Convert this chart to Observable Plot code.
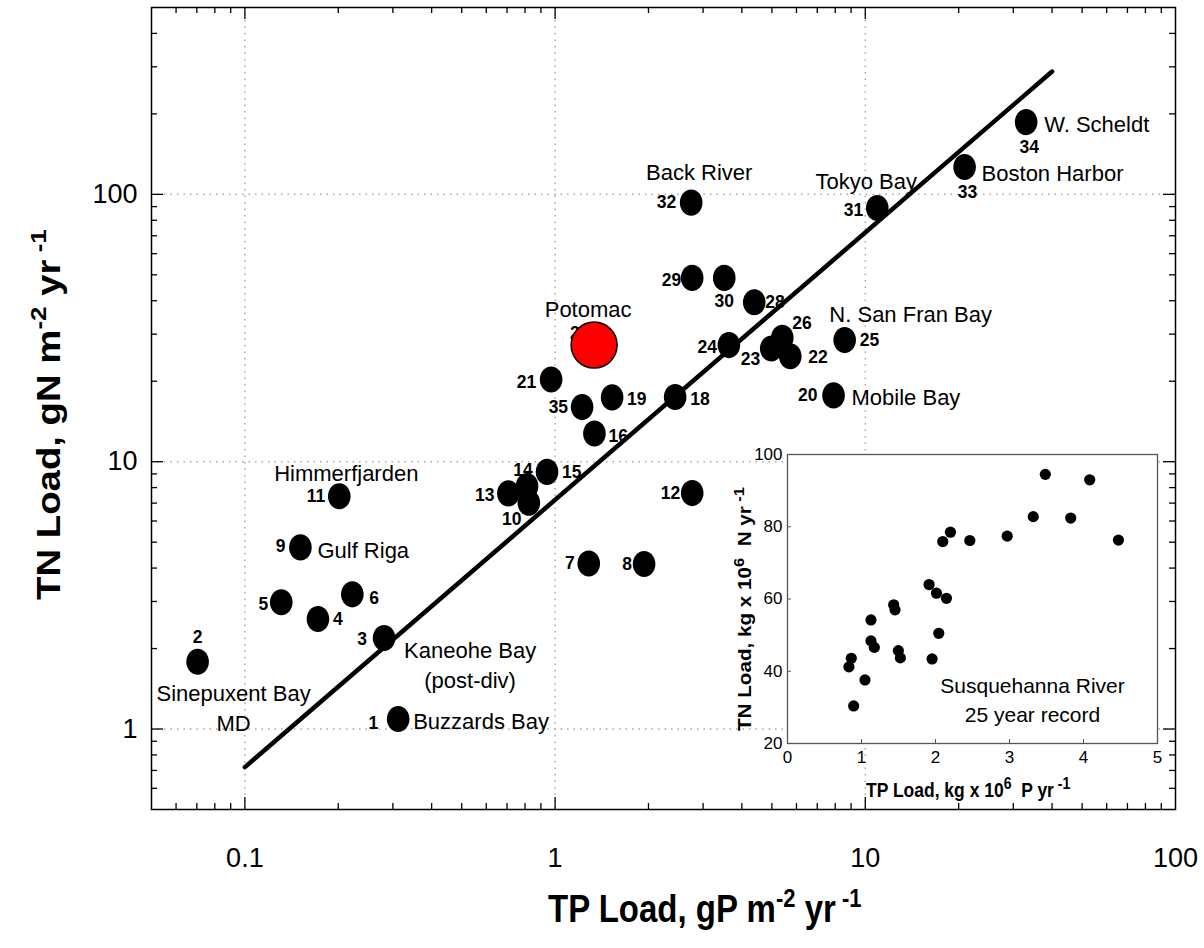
<!DOCTYPE html>
<html>
<head>
<meta charset="utf-8">
<script src="https://cdn.jsdelivr.net/npm/d3@7"></script>
<script src="https://cdn.jsdelivr.net/npm/@observablehq/plot@0.6"></script>
<style>
  body { margin: 0; background: white; }
  #wrap { position: relative; width: 1204px; height: 948px; }
</style>
</head>
<body>
<div id="wrap"></div>
<script>
const FONT = "Liberation Sans, Arial, Helvetica, sans-serif";

// ---------- Main chart data ----------
const siteIds = [1,2,3,4,5,6,7,8,9,10,11,12,13,14,15,16,18,19,20,21,22,23,24,25,26,27,28,29,30,31,32,33,34,35];
const tpLoad  = [0.312,0.0704,0.281,0.172,0.131,0.222,1.284,1.936,0.151,0.823,0.2015,2.767,0.707,0.812,0.942,1.339,2.438,1.527,7.90,0.971,5.73,4.975,3.633,8.58,5.40,1.336,4.385,2.766,3.51,10.93,2.746,20.9,33.0,1.222];
const tnLoad  = [1.09,1.785,2.19,2.58,2.98,3.19,4.16,4.14,4.78,7.02,7.43,7.63,7.61,8.10,9.16,12.75,17.47,17.4,17.7,20.3,24.8,26.5,27.3,28.5,29.1,27.3,39.5,48.7,48.7,88.9,93.1,126.5,186.3,16.0];
const highlightId = 27;

const siteNames = {
  2: "Sinepuxent Bay\nMD", 11: "Himmerfjarden", 9: "Gulf Riga", 3: "Kaneohe Bay\n(post-div)",
  1: "Buzzards Bay", 27: "Potomac", 32: "Back River", 31: "Tokyo Bay",
  25: "N. San Fran Bay", 20: "Mobile Bay", 33: "Boston Harbor", 34: "W. Scheldt"
};

// reference line (TN = ~7.2 x TP)
const fitTP = [0.1, 40];
const fitTN = [0.72, 288];

// axis ticks
const xTickValues = [0.1, 1, 10, 100];
const xTickText   = ["0.1", "1", "10", "100"];
const yTickValues = [1, 10, 100];
const yTickText   = ["1", "10", "100"];
const xGrid = [0.1, 1, 10];
const yGrid = [1, 10, 100];
const xMajor = [0.1, 1, 10];
const xMinor = [0.06,0.07,0.08,0.09,0.2,0.3,0.4,0.5,0.6,0.7,0.8,0.9,2,3,4,5,6,7,8,9,20,30,40,50,60,70,80,90];
const yMajor = [1, 10, 100];
const yMinor = [0.6,0.7,0.8,0.9,2,3,4,5,6,7,8,9,20,30,40,50,60,70,80,90,200,300,400];

// ---------- Inset data (Susquehanna River) ----------
const insetTP = [0.83,0.862,0.894,1.047,1.128,1.128,1.173,1.435,1.453,1.498,1.525,1.913,1.954,2.013,2.044,2.148,2.098,2.202,2.464,2.969,3.321,3.484,3.827,4.084,4.472];
const insetTN = [41.2,43.6,30.4,37.6,54.2,48.4,46.6,58.4,57.0,45.7,43.7,64.0,43.4,61.6,50.5,60.2,75.9,78.5,76.2,77.4,82.8,94.5,82.4,93.0,76.3];
const insetXTicks = [0,1,2,3,4,5];
const insetYTicks = [20,40,60,80,100];
const insetInnerX = [1,2,3,4];
const insetInnerY = [40,60,80];

// ---------- Layout (label placement: dx, dy, anchor) ----------
const numberLabelPlacement = {
  1:[-20,4,"end"], 2:[0,-24,"middle"], 3:[-17,1,"end"], 4:[15,0,"start"], 5:[-13,2,"end"],
  6:[17,4,"start"], 7:[-14,0,"end"], 8:[-12,0,"end"], 9:[-15,-1,"end"], 10:[-17,17,"middle"],
  11:[-14,0,"end"], 12:[-12,0,"end"], 13:[-14,2,"end"], 14:[-4,-16,"middle"], 15:[15,1,"start"],
  16:[14,3,"start"], 18:[15,2,"start"], 19:[15,2,"start"], 20:[-16,0,"end"], 21:[-15,3,"end"],
  22:[18,1,"start"], 23:[-11,11,"end"], 24:[-12,2,"end"], 25:[15,0,"start"], 26:[10,-14,"start"],
  27:[-24,-12,"start"], 28:[11,0,"start"], 29:[-11,2,"end"], 30:[0,23,"middle"], 31:[-14,2,"end"],
  32:[-15,0,"end"], 33:[3,25,"middle"], 34:[3,25,"middle"], 35:[-14,0,"end"]
};
const nameLabelPlacement = {
  2:[36,45,"middle"], 11:[7,-25,"middle"], 9:[17,1,"start"], 3:[86,25,"middle"], 1:[15,0,"start"],
  27:[-6,-38,"middle"], 32:[8,-32,"middle"], 31:[-11,-29,"middle"], 25:[66,-28,"middle"],
  20:[18,0,"start"], 33:[17,4,"start"], 34:[18,0,"start"]
};

// ---------- Build ----------
const sites = siteIds.map((id, i) => ({id, tp: tpLoad[i], tn: tnLoad[i]}));
const blackSites = sites.filter(d => d.id !== highlightId);
const redSite = sites.filter(d => d.id === highlightId);
const fitLine = fitTP.map((x, i) => ({tp: x, tn: fitTN[i]}));

const ellipse = {
  draw(ctx, size) {
    const r = Math.sqrt(size / Math.PI), a = r * 0.92, b = r * 1.06, k = 0.5523;
    ctx.moveTo(a, 0);
    ctx.bezierCurveTo(a, b * k, a * k, b, 0, b);
    ctx.bezierCurveTo(-a * k, b, -a, b * k, -a, 0);
    ctx.bezierCurveTo(-a, -b * k, -a * k, -b, 0, -b);
    ctx.bezierCurveTo(a * k, -b, a, -b * k, a, 0);
    ctx.closePath();
  }
};

const W = 1204, H = 948, ML = 151, MR = 29, MT = 7, MB = 139;
const FW = W - ML - MR, FH = H - MT - MB;

const numberMarks = sites.map(s => {
  const [dx, dy, anchor] = numberLabelPlacement[s.id];
  return Plot.text([s], {x: "tp", y: "tn", text: d => String(d.id), dx, dy, textAnchor: anchor,
    fontSize: 17.5, fontWeight: "bold", fontFamily: FONT, fill: "black"});
});
const nameMarks = sites.filter(s => siteNames[s.id]).map(s => {
  const [dx, dy, anchor] = nameLabelPlacement[s.id];
  return Plot.text([s], {x: "tp", y: "tn", text: d => siteNames[d.id], dx, dy, textAnchor: anchor,
    fontSize: 22, lineHeight: 1.36, fontFamily: FONT, fill: "black"});
});

const main = Plot.plot({
  width: W, height: H,
  marginLeft: ML, marginRight: MR, marginTop: MT, marginBottom: MB,
  x: {type: "log", domain: [0.05, 100], axis: null},
  y: {type: "log", domain: [0.5, 500], axis: null},
  style: {fontFamily: FONT, background: "white", color: "black"},
  marks: [
    Plot.ruleX(xGrid, {x: d => d, stroke: "#a8a8a8", strokeWidth: 1.5, strokeDasharray: "1.5,5"}),
    Plot.ruleY(yGrid, {y: d => d, stroke: "#a8a8a8", strokeWidth: 1.5, strokeDasharray: "1.5,5"}),
    // ticks (inward, all four sides)
    Plot.ruleX(xMajor, {x: d => d, insetTop: FH - 12, stroke: "black", strokeWidth: 1.3}),
    Plot.ruleX(xMajor, {x: d => d, insetBottom: FH - 12, stroke: "black", strokeWidth: 1.3}),
    Plot.ruleX(xMinor, {x: d => d, insetTop: FH - 6, stroke: "black", strokeWidth: 1.3}),
    Plot.ruleX(xMinor, {x: d => d, insetBottom: FH - 6, stroke: "black", strokeWidth: 1.3}),
    Plot.ruleY(yMajor, {y: d => d, insetRight: FW - 12, stroke: "black", strokeWidth: 1.3}),
    Plot.ruleY(yMajor, {y: d => d, insetLeft: FW - 12, stroke: "black", strokeWidth: 1.3}),
    Plot.ruleY(yMinor, {y: d => d, insetRight: FW - 6, stroke: "black", strokeWidth: 1.3}),
    Plot.ruleY(yMinor, {y: d => d, insetLeft: FW - 6, stroke: "black", strokeWidth: 1.3}),
    Plot.line(fitLine, {x: "tp", y: "tn", stroke: "black", strokeWidth: 4.5}),
    Plot.dot(blackSites, {x: "tp", y: "tn", r: 12.3, symbol: ellipse, fill: "black", stroke: "none"}),
    ...numberMarks,
    Plot.dot(redSite, {x: "tp", y: "tn", r: 23, fill: "#ff0000", stroke: "black", strokeWidth: 1.5}),
    ...nameMarks,
    Plot.frame({stroke: "black", strokeWidth: 1.5}),
    Plot.text(xTickValues, {x: d => d, text: (d, i) => xTickText[i], frameAnchor: "bottom", lineAnchor: "middle",
      textAnchor: "middle", dy: 49, fontSize: 27, fontFamily: FONT, fill: "black", ariaLabel: "ticklabel"}),
    Plot.text(yTickValues, {y: d => d, text: (d, i) => yTickText[i], frameAnchor: "left", lineAnchor: "middle",
      textAnchor: "end", dx: -14, fontSize: 27, fontFamily: FONT, fill: "black", ariaLabel: "ticklabel"})
  ]
});

const IW = 500, IH = 370, IML = 87, IMR = 43, IMT = 14, IMB = 67;
const IFW = IW - IML - IMR, IFH = IH - IMT - IMB;
const insetPts = insetTP.map((x, i) => ({tp: x, tn: insetTN[i]}));

const inset = Plot.plot({
  width: IW, height: IH,
  marginLeft: IML, marginRight: IMR, marginTop: IMT, marginBottom: IMB,
  x: {domain: [0, 5], axis: null},
  y: {domain: [20, 100], axis: null},
  style: {fontFamily: FONT, background: "transparent", position: "absolute", left: "700px", top: "440px", overflow: "visible", color: "black"},
  marks: [
    Plot.frame({fill: "white", stroke: "none"}),
    Plot.ruleX(insetInnerX, {x: d => d, insetTop: IFH - 4, stroke: "#555"}),
    Plot.ruleY(insetInnerY, {y: d => d, insetRight: IFW - 4, stroke: "#555"}),
    Plot.dot(insetPts, {x: "tp", y: "tn", r: 5.6, fill: "black", stroke: "none"}),
    Plot.frame({stroke: "#555", strokeWidth: 1.3}),
    Plot.text(insetXTicks, {x: d => d, text: d => String(d), frameAnchor: "bottom", lineAnchor: "middle",
      textAnchor: "middle", dy: 14, fontSize: 17, fontFamily: FONT, fill: "black"}),
    Plot.text(insetYTicks, {y: d => d, text: d => String(d), frameAnchor: "left", lineAnchor: "middle",
      textAnchor: "end", dx: -5, fontSize: 17, fontFamily: FONT, fill: "black"}),
    Plot.text(["Susquehanna River\n25 year record"], {frameAnchor: "bottom-right", textAnchor: "middle",
      lineAnchor: "middle", dx: -125, dy: -45, fontSize: 21, lineHeight: 1.35, fontFamily: FONT, fill: "black"})
  ]
});

const wrap = document.getElementById("wrap");
wrap.appendChild(main);
wrap.appendChild(inset);

// stretch main tick labels vertically (tall narrow face in original)
d3.select(main).selectAll('g[aria-label="ticklabel"] text').attr("transform", function() {
  return (this.getAttribute("transform") || "") + " scale(1,1.18)";
});

// axis titles with superscripts, flowing tspans: parts = [text, isSup]
function title(svg, transform, size, supSize, raise, parts) {
  const t = d3.select(svg).append("text")
    .attr("transform", transform)
    .attr("text-anchor", "start")
    .attr("font-family", FONT).attr("font-weight", "bold").attr("font-size", size).attr("fill", "black")
    .style("white-space", "pre");
  let up = false;
  parts.forEach(([txt, sup]) => {
    const ts = t.append("tspan").text(txt).attr("font-size", sup ? supSize : size);
    if (sup && !up) { ts.attr("dy", -raise); up = true; }
    else if (!sup && up) { ts.attr("dy", raise); up = false; }
  });
}
title(main, "translate(548,922) scale(1,1.18)", 33, 22, 13,
  [["TP Load, gP m", false], ["-2", true], [" yr", false], [" -1", true]]);
title(main, "translate(60,600) rotate(-90) scale(1.18,1)", 32.5, 22, 14,
  [["TN Load, gN m", false], ["-2", true], [" yr", false], [" -1", true]]);
title(inset, "translate(166,357) scale(1,1.18)", 17.5, 14, 7,
  [["TP Load, kg x 10", false], ["6", true], ["  P yr", false], [" -1", true]]);
title(inset, "translate(51,291) rotate(-90) scale(1.18,1)", 17.5, 14, 7,
  [["TN Load, kg x 10", false], ["6", true], ["  N yr", false], [" -1", true]]);
</script>
</body>
</html>
